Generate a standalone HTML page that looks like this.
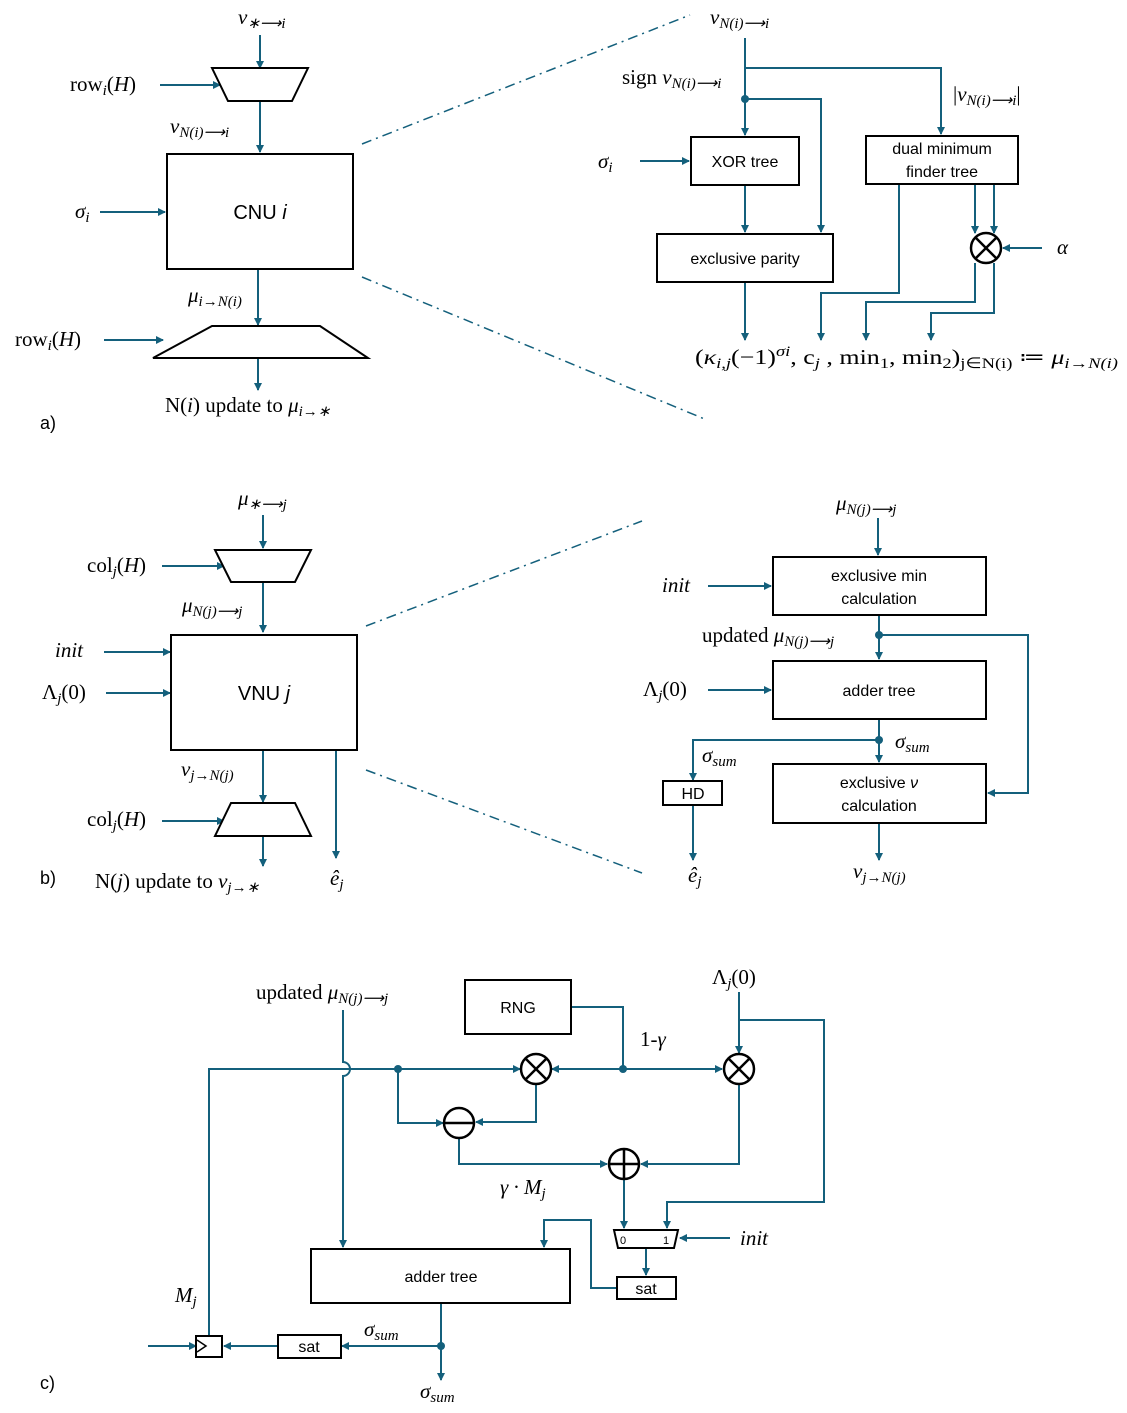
<!DOCTYPE html>
<html><head><meta charset="utf-8"><style>
body{margin:0;background:#fff}
svg{display:block}
.s{font-family:"Liberation Sans",sans-serif;font-size:16px;fill:#000}
.m{font-family:"Liberation Serif",serif;font-size:21px;fill:#000}
.i{font-style:italic}
.l{stroke:#14607c;stroke-width:2;fill:none}
.b{stroke:#000;stroke-width:2;fill:#fff}
.d{stroke:#14607c;stroke-width:1.5;fill:none;stroke-dasharray:10 5 2 5}
</style></head><body>
<svg width="1127" height="1413" viewBox="0 0 1127 1413" xmlns="http://www.w3.org/2000/svg">
<defs><marker id="a" markerWidth="8" markerHeight="8" refX="7" refY="4" orient="auto" markerUnits="userSpaceOnUse"><path d="M0,0L8,4L0,8z" fill="#14607c"/></marker></defs>
<g class="l" marker-end="url(#a)">
<path d="M260,35V68"/><path d="M160,85H220"/><path d="M260,101V152"/><path d="M100,212H165"/>
<path d="M258,270V325"/><path d="M104,340H163"/><path d="M258,358V390"/>
<path d="M745,38V135"/><path d="M745,68H941V134"/><path d="M745,99H821V232"/>
<path d="M640,161H689"/><path d="M745,185V232"/><path d="M745,282V340"/>
<path d="M899,184V293H821V340"/><path d="M975,184V233"/><path d="M994,184V233"/>
<path d="M1042,248H1003"/><path d="M975,263V302H866V340"/><path d="M994,263V313H931V340"/>
<path d="M263,515V548"/><path d="M162,566H224"/><path d="M263,582V632"/>
<path d="M104,652H170"/><path d="M106,693H170"/><path d="M263,750V802"/>
<path d="M162,821H224"/><path d="M263,836V866"/><path d="M336,750V858"/>
<path d="M878,518V555"/><path d="M708,586H771"/><path d="M879,615V659"/>
<path d="M879,635H1028V793H988"/><path d="M708,690H771"/><path d="M879,719V762"/>
<path d="M879,740H693V780"/><path d="M693,805V860"/><path d="M879,823V860"/>
<path d="M343,1010V1062A7,7 0 0 1 343,1076V1247"/>
<path d="M209,1336V1069H520"/>
<path d="M571,1007H623V1069H552"/><path d="M623,1069H722"/>
<path d="M739,992V1053"/><path d="M739,1020H824V1202H667V1228"/>
<path d="M398,1069V1123H443"/><path d="M536,1084V1122H476"/>
<path d="M459,1138V1164H607"/><path d="M739,1084V1164H641"/>
<path d="M624,1180V1228"/><path d="M730,1238H680"/><path d="M646,1248V1275"/>
<path d="M617,1288H591V1220H544V1247"/>
<path d="M441,1303V1380"/><path d="M441,1346H342"/><path d="M278,1346H224"/><path d="M148,1346H196"/>
</g>
<g fill="#14607c"><circle cx="745" cy="99" r="4"/><circle cx="879" cy="635" r="4"/><circle cx="879" cy="740" r="4"/><circle cx="398" cy="1069" r="4"/><circle cx="623" cy="1069" r="4"/><circle cx="441" cy="1346" r="4"/></g>
<g class="d"><path d="M362,144L690,15"/><path d="M362,277L707,420"/><path d="M366,626L642,521"/><path d="M366,770L642,873"/></g>
<g class="b">
<path d="M212,68H308L292,101H228Z"/><rect x="167" y="154" width="186" height="115"/><path d="M212,326H320L368,358H153Z"/>
<rect x="691" y="137" width="108" height="48"/><rect x="657" y="234" width="176" height="48"/><rect x="866" y="136" width="152" height="48"/>
<path d="M215,550H311L295,582H231Z"/><rect x="171" y="635" width="186" height="115"/><path d="M231,803H295L311,836H215Z"/>
<rect x="773" y="557" width="213" height="58"/><rect x="773" y="661" width="213" height="58"/><rect x="773" y="764" width="213" height="59"/><rect x="663" y="781" width="59" height="24"/>
<rect x="465" y="980" width="106" height="54"/><rect x="311" y="1249" width="259" height="54"/>
<path d="M614,1230H678L674,1248H618Z"/><rect x="617" y="1277" width="59" height="22"/><rect x="278" y="1335" width="63" height="23"/><rect x="196" y="1336" width="26" height="21"/>
</g>
<path d="M197,1340L206,1346L197,1352" stroke="#000" stroke-width="1.5" fill="none"/>
<g stroke="#000" stroke-width="2.5" fill="#fff">
<circle cx="986" cy="248" r="15"/><path d="M975,237L997,259M997,237L975,259"/>
<circle cx="536" cy="1069" r="15"/><path d="M525,1058L547,1080M547,1058L525,1080"/>
<circle cx="739" cy="1069" r="15"/><path d="M728,1058L750,1080M750,1058L728,1080"/>
<circle cx="459" cy="1123" r="15"/><path d="M444,1123H474"/>
<circle cx="624" cy="1164" r="15"/><path d="M609,1164H639M624,1149V1179"/>
</g>
<g class="s">
<text x="260" y="219" text-anchor="middle" font-size="20">CNU <tspan font-style="italic">i</tspan></text>
<text x="745" y="167" text-anchor="middle">XOR tree</text>
<text x="745" y="264" text-anchor="middle">exclusive parity</text>
<text x="942" y="154" text-anchor="middle">dual minimum</text><text x="942" y="177" text-anchor="middle">finder tree</text>
<text x="264" y="700" text-anchor="middle" font-size="20">VNU <tspan font-style="italic">j</tspan></text>
<text x="879" y="581" text-anchor="middle">exclusive min</text><text x="879" y="604" text-anchor="middle">calculation</text>
<text x="879" y="696" text-anchor="middle">adder tree</text>
<text x="879" y="788" text-anchor="middle">exclusive <tspan font-style="italic">ν</tspan></text><text x="879" y="811" text-anchor="middle">calculation</text>
<text x="693" y="799" text-anchor="middle">HD</text>
<text x="518" y="1013" text-anchor="middle">RNG</text>
<text x="441" y="1282" text-anchor="middle">adder tree</text>
<text x="646" y="1294" text-anchor="middle">sat</text><text x="309" y="1352" text-anchor="middle">sat</text>
<text x="620" y="1244" font-size="11">0</text><text x="663" y="1244" font-size="11">1</text>
<text x="40" y="429" font-size="18">a)</text><text x="40" y="884" font-size="18">b)</text><text x="40" y="1389" font-size="18">c)</text>
</g>
<g class="m">
<text x="238" y="24" class="i">ν<tspan font-size="15" dy="4">∗⟶i</tspan></text>
<text x="70" y="91">row<tspan font-size="15" font-style="italic" dy="4">i</tspan><tspan dy="-4">(</tspan><tspan font-style="italic">H</tspan>)</text>
<text x="170" y="133" class="i">ν<tspan font-size="15" dy="4">N(i)⟶i</tspan></text>
<text x="75" y="218" class="i">σ<tspan font-size="15" dy="4">i</tspan></text>
<text x="188" y="302" class="i">μ<tspan font-size="15" dy="4">i→N(i)</tspan></text>
<text x="15" y="346">row<tspan font-size="15" font-style="italic" dy="4">i</tspan><tspan dy="-4">(</tspan><tspan font-style="italic">H</tspan>)</text>
<text x="165" y="412">N(<tspan font-style="italic">i</tspan>) update to <tspan font-style="italic">μ</tspan><tspan font-size="15" font-style="italic" dy="4">i→∗</tspan></text>
<text x="710" y="24" class="i">ν<tspan font-size="15" dy="4">N(i)⟶i</tspan></text>
<text x="622" y="84">sign <tspan font-style="italic">ν</tspan><tspan font-size="15" font-style="italic" dy="4">N(i)⟶i</tspan></text>
<text x="953" y="101">|<tspan font-style="italic">ν</tspan><tspan font-size="15" font-style="italic" dy="4">N(i)⟶i</tspan><tspan dy="-4">|</tspan></text>
<text x="598" y="168" class="i">σ<tspan font-size="15" dy="4">i</tspan></text>
<text x="1057" y="254" class="i">α</text>
<text x="695" y="364" textLength="423" lengthAdjust="spacingAndGlyphs">(<tspan font-style="italic">κ</tspan><tspan font-size="15" font-style="italic" dy="4">i,j</tspan><tspan dy="-4">(−1)</tspan><tspan font-size="15" font-style="italic" dy="-8">σi</tspan><tspan dy="8">, c</tspan><tspan font-size="15" font-style="italic" dy="4">j</tspan><tspan dy="-4"> , min</tspan><tspan font-size="15" dy="4">1</tspan><tspan dy="-4">, min</tspan><tspan font-size="15" dy="4">2</tspan><tspan dy="-4">)</tspan><tspan font-size="15" dy="4">j∈N(i)</tspan><tspan dy="-4"> ≔ </tspan><tspan font-style="italic">μ</tspan><tspan font-size="15" font-style="italic" dy="4">i→N(i)</tspan></text>
<text x="238" y="505" class="i">μ<tspan font-size="15" dy="4">∗⟶j</tspan></text>
<text x="87" y="572">col<tspan font-size="15" font-style="italic" dy="4">j</tspan><tspan dy="-4">(</tspan><tspan font-style="italic">H</tspan>)</text>
<text x="182" y="612" class="i">μ<tspan font-size="15" dy="4">N(j)⟶j</tspan></text>
<text x="55" y="657" class="i">init</text>
<text x="42" y="699">Λ<tspan font-size="15" font-style="italic" dy="4">j</tspan><tspan dy="-4">(0)</tspan></text>
<text x="181" y="776" class="i">ν<tspan font-size="15" dy="4">j→N(j)</tspan></text>
<text x="87" y="826">col<tspan font-size="15" font-style="italic" dy="4">j</tspan><tspan dy="-4">(</tspan><tspan font-style="italic">H</tspan>)</text>
<text x="95" y="888">N(<tspan font-style="italic">j</tspan>) update to <tspan font-style="italic">ν</tspan><tspan font-size="15" font-style="italic" dy="4">j→∗</tspan></text>
<text x="330" y="885" class="i">ê<tspan font-size="15" dy="4">j</tspan></text>
<text x="836" y="510" class="i">μ<tspan font-size="15" dy="4">N(j)⟶j</tspan></text>
<text x="662" y="592" class="i">init</text>
<text x="702" y="642">updated <tspan font-style="italic">μ</tspan><tspan font-size="15" font-style="italic" dy="4">N(j)⟶j</tspan></text>
<text x="643" y="696">Λ<tspan font-size="15" font-style="italic" dy="4">j</tspan><tspan dy="-4">(0)</tspan></text>
<text x="702" y="762" class="i">σ<tspan font-size="15" dy="4">sum</tspan></text>
<text x="895" y="748" class="i">σ<tspan font-size="15" dy="4">sum</tspan></text>
<text x="688" y="882" class="i">ê<tspan font-size="15" dy="4">j</tspan></text>
<text x="853" y="878" class="i">ν<tspan font-size="15" dy="4">j→N(j)</tspan></text>
<text x="256" y="999">updated <tspan font-style="italic">μ</tspan><tspan font-size="15" font-style="italic" dy="4">N(j)⟶j</tspan></text>
<text x="712" y="984">Λ<tspan font-size="15" font-style="italic" dy="4">j</tspan><tspan dy="-4">(0)</tspan></text>
<text x="640" y="1046">1-<tspan font-style="italic">γ</tspan></text>
<text x="500" y="1194" class="i">γ · M<tspan font-size="15" dy="4">j</tspan></text>
<text x="740" y="1245" class="i">init</text>
<text x="175" y="1302" class="i">M<tspan font-size="15" dy="4">j</tspan></text>
<text x="364" y="1336" class="i">σ<tspan font-size="15" dy="4">sum</tspan></text>
<text x="420" y="1398" class="i">σ<tspan font-size="15" dy="4">sum</tspan></text>
</g>
</svg>
</body></html>
